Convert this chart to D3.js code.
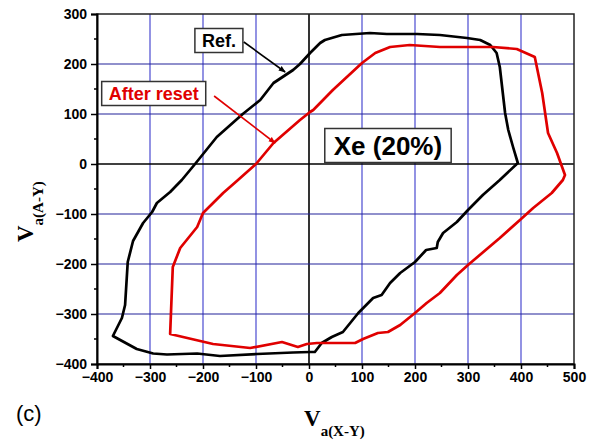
<!DOCTYPE html>
<html>
<head>
<meta charset="utf-8">
<script src="https://cdn.jsdelivr.net/npm/d3@7"></script>
<style>
body { margin:0; background:#fff; }
svg { display:block; }
</style>
</head>
<body>
<svg id="chart"></svg>
<script>
// hysteresis loops, Xe (20%) panel (c)

var screen = {width:596, height:443}
var margins = {top:14, right:22, left:97, bottom:79}

var xTicks = [-400,-300,-200,-100,0,100,200,300,400,500]
var yTicks = [-400,-300,-200,-100,0,100,200,300]

// Ref. loop (black)
var refX = [-215,-174,-125,-92,-67,-30,-17,2,21,30,62,115,147,204,247,298,323,342,354,360,370,376,385,394,
            360,328,300,279,253,243,241,221,200,172,153,137,121,93,64,43,24,11,2,-30,-98,-168,-211,-268,-294,-325,-370,
            -353,-347,-342,-332,-313,-296,-287,-262,-240,-215]
var refY = [0,54,100,128,162,188,200,222,242,248,258,262,260,260,258,252,248,238,222,194,102,68,34,2,
            -32,-62,-92,-116,-138,-156,-168,-172,-196,-218,-238,-262,-268,-298,-336,-346,-358,-376,-376,-377,-380,-384,-379,-381,-379,-370,-344,
            -308,-282,-196,-154,-118,-96,-78,-56,-32,0]

// After reset loop (red)
var resetX = [-100,-67,-17,2,8,45,100,125,153,190,247,347,392,426,440,451,468,483,
              479,458,423,398,360,300,279,247,222,200,172,149,130,102,87,45,15,-4,-21,-51,-111,-181,-262,
              -257,-243,-211,-200,-162,-134,-100]
var resetY = [0,42,88,104,108,148,202,222,234,238,234,234,230,214,142,62,22,-22,
              -32,-58,-88,-112,-148,-202,-222,-258,-278,-298,-322,-336,-338,-350,-358,-358,-358,-360,-366,-356,-368,-360,-340,
              -206,-168,-126,-98,-58,-32,0]

var labels = [
    {text:"Ref.", x:-170, y:247, color:"#000", size:18},
    {text:"After reset", x:-293, y:141, color:"#e00000", size:18},
    {text:"Xe (20%)", x:149, y:37, color:"#000", size:26}
]
var arrows = [
    {x1:-123, y1:244, x2:-45, y2:184, color:"#000"},
    {x1:-179, y1:136, x2:-64, y2:42, color:"#e00000"}
]

var svg = d3.select("#chart")
    .attr("width", screen.width)
    .attr("height", screen.height)

var width = screen.width - margins.left - margins.right
var height = screen.height - margins.top - margins.bottom

var xScale = d3.scaleLinear().domain([-400,500]).range([margins.left, margins.left + width])
var yScale = d3.scaleLinear().domain([-400,300]).range([margins.top + height, margins.top])

var defs = svg.append("defs")
var arrowColors = ["#000", "#e00000"]
arrowColors.forEach(function(c, i){
    defs.append("marker")
        .attr("id", "head" + i)
        .attr("viewBox", "0 0 10 10")
        .attr("refX", 9).attr("refY", 5)
        .attr("markerWidth", 7).attr("markerHeight", 7)
        .attr("markerUnits", "userSpaceOnUse")
        .attr("orient", "auto")
        .append("path")
        .attr("d", "M0,1 L10,5 L0,9 Z")
        .attr("fill", c)
})

// grid
var grid = svg.append("g")
grid.selectAll(".vgrid")
    .data(xTicks.slice(1, -1))
    .enter().append("line")
    .attr("x1", function(d){ return xScale(d) })
    .attr("x2", function(d){ return xScale(d) })
    .attr("y1", yScale(-400)).attr("y2", yScale(300))
    .attr("stroke", function(d){ return d == 0 ? "#000" : "#3a3acc" })
    .attr("stroke-width", function(d){ return d == 0 ? 1.6 : 1.1 })

grid.selectAll(".hgrid")
    .data(yTicks.slice(1, -1))
    .enter().append("line")
    .attr("y1", function(d){ return yScale(d) })
    .attr("y2", function(d){ return yScale(d) })
    .attr("x1", xScale(-400)).attr("x2", xScale(500))
    .attr("stroke", function(d){ return d == 0 ? "#000" : "#22229a" })
    .attr("stroke-width", function(d){ return d == 0 ? 1.6 : 1.1 })

// frame (top, right)
svg.append("rect")
    .attr("x", xScale(-400)).attr("y", yScale(300))
    .attr("width", xScale(500) - xScale(-400))
    .attr("height", yScale(-400) - yScale(300))
    .attr("fill", "none")
    .attr("stroke", "#222")
    .attr("stroke-width", 1.5)

// loops
var line = d3.line()
    .x(function(d){ return xScale(d[0]) })
    .y(function(d){ return yScale(d[1]) })

var refPts = refX.map(function(v, i){ return [v, refY[i]] })
var resetPts = resetX.map(function(v, i){ return [v, resetY[i]] })

svg.append("path")
    .datum(refPts)
    .attr("d", line)
    .attr("fill", "none")
    .attr("stroke", "#000")
    .attr("stroke-width", 2.7)
    .attr("stroke-linejoin", "round")

svg.append("path")
    .datum(resetPts)
    .attr("d", line)
    .attr("fill", "none")
    .attr("stroke", "#e00000")
    .attr("stroke-width", 2.7)
    .attr("stroke-linejoin", "round")

// axes
var xAxis = d3.axisBottom(xScale).tickValues(xTicks).tickSize(5).tickPadding(3)
var yAxis = d3.axisLeft(yScale).tickValues(yTicks).tickSize(6).tickPadding(4)

var gx = svg.append("g")
    .attr("transform", "translate(0," + yScale(-400) + ")")
    .call(xAxis)
gx.append("g").selectAll("line")
    .data(d3.range(-350, 500, 100))
    .enter().append("line")
    .attr("x1", function(d){ return xScale(d) })
    .attr("x2", function(d){ return xScale(d) })
    .attr("y1", 0).attr("y2", 3)
    .attr("stroke", "#000").attr("stroke-width", 1.5)

var gy = svg.append("g")
    .attr("transform", "translate(" + xScale(-400) + ",0)")
    .call(yAxis)
gy.append("g").selectAll("line")
    .data(d3.range(-350, 300, 100))
    .enter().append("line")
    .attr("y1", function(d){ return yScale(d) })
    .attr("y2", function(d){ return yScale(d) })
    .attr("x1", 0).attr("x2", -3)
    .attr("stroke", "#000").attr("stroke-width", 1.5)

svg.selectAll(".domain").attr("stroke", "#000").attr("stroke-width", 2)
svg.selectAll(".tick line").attr("stroke", "#000").attr("stroke-width", 1.5)
svg.selectAll(".tick text")
    .attr("font-family", "Liberation Sans, Arial, sans-serif")
    .attr("font-weight", "bold")
    .attr("font-size", 14)
    .attr("fill", "#000")

// annotation boxes
labels.forEach(function(d){
    var g = svg.append("g")
    var t = g.append("text")
        .attr("x", xScale(d.x)).attr("y", yScale(d.y))
        .attr("text-anchor", "middle")
        .attr("dominant-baseline", "central")
        .attr("font-family", "Liberation Sans, Arial, sans-serif")
        .attr("font-weight", "bold")
        .attr("font-size", d.size)
        .attr("fill", d.color)
        .text(d.text)
    var bb = t.node().getBBox()
    var padX = d.size > 20 ? 9 : 7
    g.insert("rect", "text")
        .attr("x", bb.x - padX).attr("y", bb.y - 2)
        .attr("width", bb.width + 2 * padX).attr("height", bb.height + 4)
        .attr("fill", "#fff")
        .attr("stroke", "#333")
        .attr("stroke-width", 1.5)
})

arrows.forEach(function(d, i){
    svg.append("line")
        .attr("x1", xScale(d.x1)).attr("y1", yScale(d.y1))
        .attr("x2", xScale(d.x2)).attr("y2", yScale(d.y2))
        .attr("stroke", d.color)
        .attr("stroke-width", 1.6)
        .attr("marker-end", "url(#head" + i + ")")
})

// axis titles
var xt = svg.append("text")
    .attr("x", 304).attr("y", 426)
    .attr("font-family", "Liberation Serif, Times New Roman, serif")
    .attr("font-weight", "bold")
    .attr("font-size", 23)
xt.append("tspan").text("V")
xt.append("tspan").attr("font-size", 15).attr("dy", 10).text("a(X-Y)")

var yt = svg.append("text")
    .attr("transform", "translate(33,242) rotate(-90)")
    .attr("font-family", "Liberation Serif, Times New Roman, serif")
    .attr("font-weight", "bold")
    .attr("font-size", 23)
yt.append("tspan").text("V")
yt.append("tspan").attr("font-size", 15).attr("dy", 10).text("a(A-Y)")

svg.append("text")
    .attr("x", 16).attr("y", 421)
    .attr("font-family", "Liberation Sans, Arial, sans-serif")
    .attr("font-size", 22)
    .attr("fill", "#000")
    .text("(c)")
</script>
</body>
</html>
